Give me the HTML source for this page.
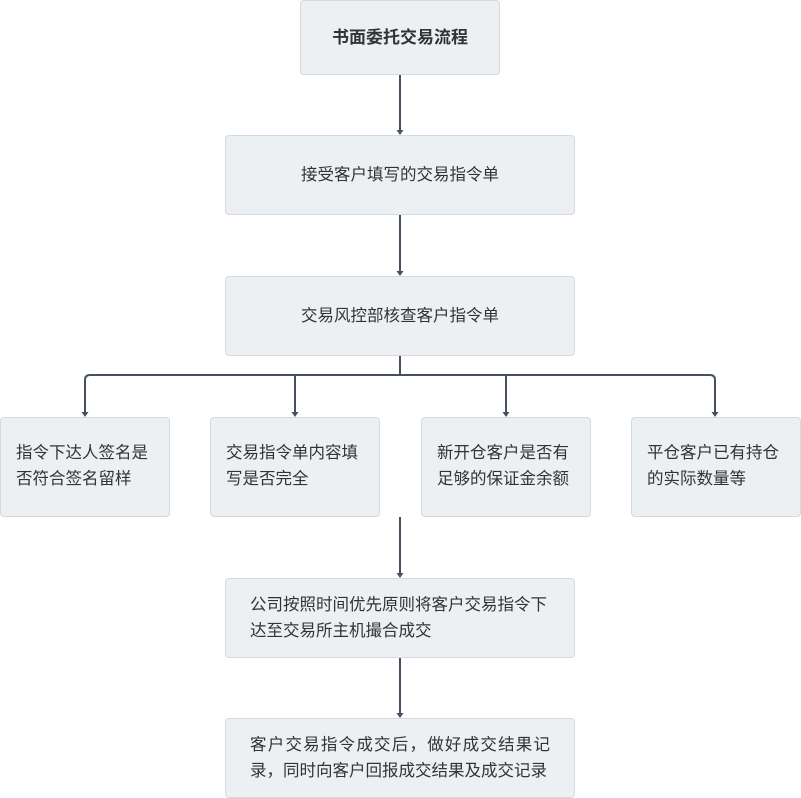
<!DOCTYPE html>
<html><head><meta charset="utf-8">
<style>
html,body{margin:0;padding:0;background:#fff;}
body{width:801px;height:798px;position:relative;overflow:hidden;font-family:"Liberation Sans","Noto Sans CJK SC",sans-serif;color:#333;}
.b{position:absolute;box-sizing:border-box;background:#edf0f3;border:1px solid #d6d9dd;border-radius:4px;font-size:16.5px;line-height:26px;display:flex;align-items:center;}
.c{justify-content:center;text-align:center;}
.l{padding:0 15px 3px 15px;}
.w{padding:0 24px;}
.w span{display:block;width:300px;}
.j span{text-align:justify;}
svg{position:absolute;left:0;top:0;}
</style></head><body>
<svg width="801" height="798" viewBox="0 0 801 798">
<g stroke="#465061" stroke-width="2" fill="none">
<line x1="400" y1="74" x2="400" y2="131"/>
<line x1="400" y1="214" x2="400" y2="272"/>
<line x1="400" y1="355" x2="400" y2="375"/>
<path d="M85 413 V380 Q85 375 90 375 H710 Q715 375 715 380 V413"/>
<line x1="295" y1="375" x2="295" y2="413"/>
<line x1="506" y1="375" x2="506" y2="413"/>
<line x1="400" y1="517" x2="400" y2="574"/>
<line x1="400" y1="657" x2="400" y2="714"/>
</g>
<g fill="#465061">
<polygon points="396.5,130 403.5,130 400,135"/>
<polygon points="396.5,271 403.5,271 400,276"/>
<polygon points="81.5,412 88.5,412 85,417"/>
<polygon points="291.5,412 298.5,412 295,417"/>
<polygon points="502.5,412 509.5,412 506,417"/>
<polygon points="711.5,412 718.5,412 715,417"/>
<polygon points="396.5,573 403.5,573 400,578"/>
<polygon points="396.5,713 403.5,713 400,718"/>
</g>
</svg>
<div class="b c" style="left:300px;top:0;width:200px;height:75px;font-weight:bold;font-size:17px;">书面委托交易流程</div>
<div class="b c" style="left:225px;top:135px;width:350px;height:80px;">接受客户填写的交易指令单</div>
<div class="b c" style="left:225px;top:276px;width:350px;height:80px;">交易风控部核查客户指令单</div>
<div class="b l" style="left:0;top:417px;width:170px;height:100px;"><span>指令下达人签名是否符合签名留样</span></div>
<div class="b l" style="left:210px;top:417px;width:170px;height:100px;"><span>交易指令单内容填写是否完全</span></div>
<div class="b l" style="left:421px;top:417px;width:170px;height:100px;"><span>新开仓客户是否有足够的保证金余额</span></div>
<div class="b l" style="left:631px;top:417px;width:170px;height:100px;"><span>平仓客户已有持仓的实际数量等</span></div>
<div class="b w" style="left:225px;top:578px;width:350px;height:80px;"><span>公司按照时间优先原则将客户交易指令下达至交易所主机撮合成交</span></div>
<div class="b w j" style="left:225px;top:718px;width:350px;height:80px;"><span>客户交易指令成交后，做好成交结果记录，同时向客户回报成交结果及成交记录</span></div>
</body></html>
